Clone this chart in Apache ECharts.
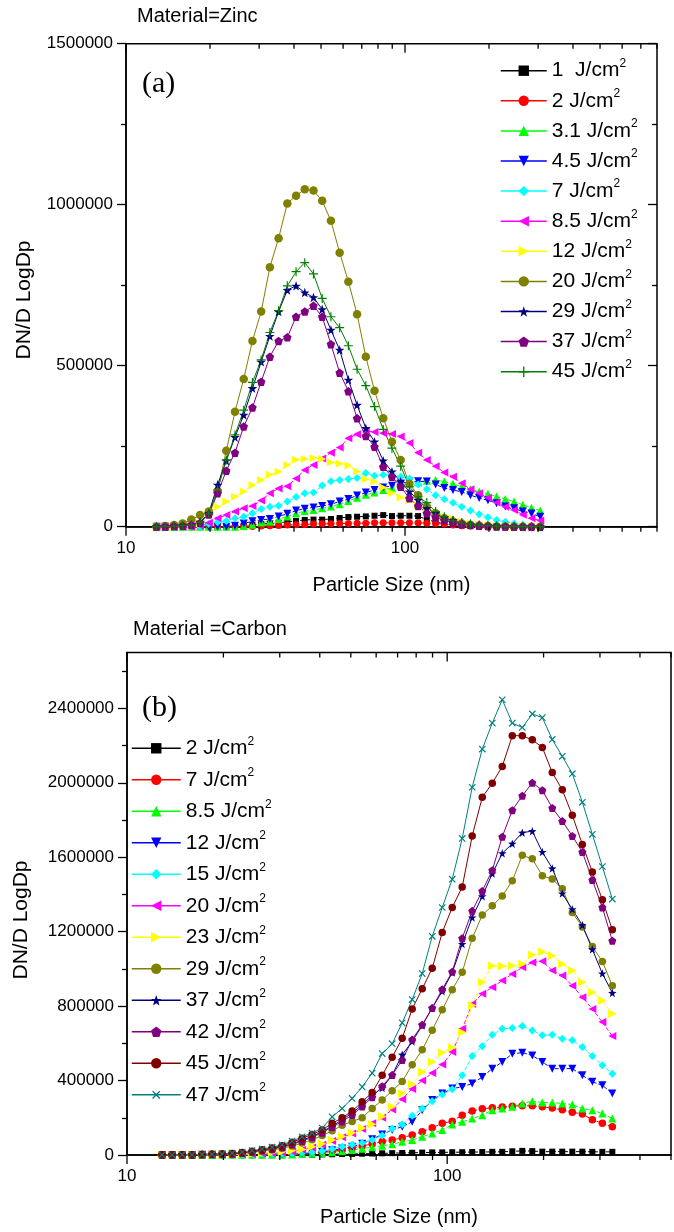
<!DOCTYPE html>
<html><head><meta charset="utf-8">
<script src="https://cdn.jsdelivr.net/npm/echarts@6.0.0/dist/echarts.min.js"></script>
<style>html,body{margin:0;padding:0;background:#fff;width:674px;height:1232px;overflow:hidden}
#a{position:absolute;left:0;top:0;width:674px;height:608px}
#b{position:absolute;left:0;top:608px;width:674px;height:624px}</style>
</head><body><div id="a"></div><div id="b"></div>
<script>
// ---------- DATA ----------
const sizesZinc = [12.86,13.82,14.86,15.96,17.15,18.43,19.81,21.29,22.88,24.58,26.42,28.39,30.51,32.78,35.23,37.86,40.69,43.72,46.98,50.49,54.26,58.31,62.66,67.33,72.36,77.75,83.56,89.79,96.49,103.7,111.4,119.7,128.7,138.3,148.6,159.7,171.6,184.4,198.2,212.9,228.8,245.9,264.3,284.0,305.2];
const sizesCarbon = [12.86,13.82,14.86,15.96,17.15,18.43,19.81,21.29,22.88,24.58,26.42,28.39,30.51,32.78,35.23,37.86,40.69,43.72,46.98,50.49,54.26,58.31,62.66,67.33,72.36,77.75,83.56,89.79,96.49,103.7,111.4,119.7,128.7,138.3,148.6,159.7,171.6,184.4,198.2,212.9,228.8,245.9,264.3,284.0,305.2,327.9];

const zincNames = ['1  J/cm²','2 J/cm²','3.1 J/cm²','4.5 J/cm²','7 J/cm²','8.5 J/cm²','12 J/cm²','20 J/cm²','29 J/cm²','37 J/cm²','45 J/cm²'];
const zinc_1 = [0,0,0,0,0, 0,0,0,0,1000, 3000,5000,8000,10000,12000, 15000,18000,21000,22000,22000, 24000,27000,30000,31000,32000, 34000,36000,33000,34000,34000, 33000,22000,15000,9000,6000, 4000,3000,2000,2000,1000, 1000,1000,0,0,0];
const zinc_2 = [0,0,0,0,0, 0,0,0,0,0, 0,1000,2000,3000,4000, 5000,6000,7000,8000,9000, 9000,10000,10000,11000,11000, 12000,12000,12000,12000,12000, 12000,11000,10000,8000,5000, 3000,2000,1000,0,0, 0,0,0,0,0];
const zinc_3_1 = [0,0,0,0,0, 0,0,0,0,0, 2000,6000,13000,16000,24000, 32000,42000,48000,52000,57000, 63000,70000,80000,90000,99000, 106000,114000,121000,128000,134000, 139000,143000,145000,140000,133000, 124000,116000,109000,102000,94000, 86000,78000,68000,59000,50000];
const zinc_4_5 = [0,0,0,0,0, 0,0,0,0,3000, 10000,17000,21000,24000,32000, 40000,50000,56000,60000,64000, 70000,78000,86000,97000,106000, 114000,122000,127000,134000,140000, 141000,140000,131000,120000,114000, 108000,98000,89000,82000,73000, 63000,57000,47000,41000,31000];
const zinc_7 = [0,0,0,0,0, 0,8000,14000,18000,26000, 31000,42000,55000,62000,65000, 78000,92000,104000,106000,128000, 141000,145000,148000,151000,167000, 158000,161000,162000,155000,150000, 131000,116000,98000,85000,74000, 62000,50000,39000,29000,21000, 15000,10000,6000,3000,2000];
const zinc_8_5 = [0,0,0,0,0, 3000,12000,26000,36000,47000, 57000,64000,81000,104000,119000, 126000,150000,176000,192000,212000, 230000,246000,275000,287000,298000, 294000,290000,288000,280000,260000, 230000,207000,188000,168000,155000, 135000,116000,104000,90000,75000, 62000,52000,37000,26000,19000];
const zinc_12 = [0,0,0,0,0, 10000,42000,62000,78000,93000, 109000,129000,145000,161000,171000, 192000,208000,210000,213000,210000, 200000,196000,190000,172000,148000, 140000,122000,105000,91000,82000, 67000,52000,42000,31000,25000, 16000,10000,6000,4000,2000, 1000,0,0,0,0];
const zinc_20 = [0,2000,5000,10000,22000, 36000,47000,110000,236000,357000, 459000,577000,668000,806000,896000, 1004000,1028000,1048000,1044000,1012000, 950000,851000,761000,660000,528000, 422000,337000,264000,207000,133000, 98000,62000,42000,26000,16000, 10000,6000,4000,2000,1000, 1000,0,0,0,0];
const zinc_29 = [0,1000,2000,3000,6000, 15000,42000,130000,205000,278000, 347000,430000,512000,592000,668000, 735000,748000,727000,712000,675000, 611000,549000,456000,378000,306000, 264000,205000,171000,140000,109000, 83000,57000,42000,29000,20000, 12000,8000,5000,3000,2000, 1000,1000,0,0,0];
const zinc_37 = [0,1000,2000,3000,5000, 12000,38000,104000,174000,230000, 311000,370000,450000,528000,577000, 588000,652000,668000,686000,652000, 567000,478000,421000,337000,282000, 248000,186000,155000,124000,88000, 64000,42000,29000,20000,12000, 8000,5000,3000,2000,1000, 1000,0,0,0,0];
const zinc_45 = [0,1000,2000,3000,5000, 14000,40000,114000,207000,285000, 362000,448000,518000,603000,671000, 748000,792000,820000,785000,709000, 652000,618000,562000,489000,438000, 373000,302000,244000,188000,124000, 93000,75000,47000,31000,20000, 12000,8000,5000,3000,2000, 1000,1000,0,0,0];

const carbonNames = ['2 J/cm²','7 J/cm²','8.5 J/cm²','12 J/cm²','15 J/cm²','20 J/cm²','23 J/cm²','29 J/cm²','37 J/cm²','42 J/cm²','45 J/cm²','47 J/cm²'];
const carbon_2 = [0,0,0,0,0, 0,0,0,0,0, 0,0,0,0,1000, 2000,3000,4000,5000,6000, 7000,8000,9000,10000,11000, 12000,13000,14000,14000,15000, 15000,16000,16000,17000,17000, 20000,22000,21000,18000,18000, 18000,18000,18000,17000,17000, 17000];
const carbon_7 = [0,0,0,0,0, 1000,1000,1000,2000,2000, 2000,3000,3000,5000,8000, 12000,16000,20000,28000,38000, 48000,60000,72000,80000,93000, 107000,125000,146000,170000,182000, 214000,236000,248000,254000,258000, 262000,265000,264000,259000,252000, 243000,230000,220000,190000,170000, 152000];
const carbon_8_5 = [0,0,0,0,0, 0,1000,1000,1000,1000, 2000,2000,2000,3000,5000, 8000,11000,15000,20000,27000, 34000,42000,50000,58000,71000, 80000,98000,116000,134000,164000, 178000,196000,214000,241000,250000, 259000,277000,289000,282000,282000, 277000,271000,250000,241000,223000, 196000];
const carbon_12 = [0,0,0,0,1000, 1000,1000,2000,2000,3000, 4000,5000,6000,7000,8000, 12000,18000,25000,35000,45000, 60000,85000,110000,135000,152000, 178000,240000,295000,330000,357000, 366000,384000,419000,464000,500000, 544000,550000,535000,500000,464000, 464000,464000,428000,393000,375000, 330000];
const carbon_15 = [0,0,0,1000,1000, 1000,2000,2000,3000,4000, 5000,6000,8000,10000,12000, 15000,22000,32000,45000,55000, 65000,80000,105000,143000,164000, 211000,250000,289000,325000,353000, 428000,532000,585000,646000,678000, 682000,693000,669000,643000,646000, 625000,616000,580000,532000,482000, 437000];
const carbon_20 = [0,0,1000,1000,1000, 2000,2000,3000,4000,6000, 8000,10000,14000,18000,28000, 40000,55000,75000,95000,115000, 140000,170000,200000,245000,300000, 355000,400000,440000,486000,553000, 678000,812000,866000,901000,937000, 973000,1009000,1035000,1041000,991000, 964000,910000,848000,785000,714000, 639000];
const carbon_23 = [0,0,1000,1000,2000, 2000,3000,4000,5000,7000, 10000,14000,18000,24000,30000, 45000,60000,80000,100000,120000, 145000,165000,207000,259000,330000, 380000,446000,500000,550000,577000, 660000,803000,928000,1017000,1014000, 1017000,1026000,1075000,1092000,1071000, 1026000,991000,928000,875000,830000, 759000];
const carbon_29 = [1000,1000,2000,2000,3000, 4000,5000,6000,9000,14000, 20000,27000,36000,48000,64000, 82000,105000,130000,160000,180000, 200000,250000,295000,345000,395000, 485000,565000,670000,780000,888000, 982000,1164000,1289000,1339000,1392000, 1473000,1610000,1592000,1500000,1483000, 1430000,1303000,1225000,1120000,1040000, 910000];
const carbon_37 = [1000,1000,2000,2000,3000, 4000,5000,8000,12000,18000, 26000,35000,45000,60000,80000, 100000,125000,155000,190000,225000, 270000,320000,360000,430000,539000, 610000,696000,790000,880000,980000, 1134000,1276000,1390000,1512000,1621000, 1673000,1732000,1740000,1628000,1540000, 1405000,1320000,1235000,1105000,975000, 871000];
const carbon_42 = [1000,1000,2000,2000,3000, 4000,5000,7000,11000,17000, 24000,32000,42000,56000,75000, 95000,120000,150000,180000,215000, 260000,310000,370000,430000,510000, 620000,700000,790000,890000,985000, 1165000,1312000,1419000,1530000,1710000, 1853000,1930000,2000000,1960000,1865000, 1794000,1714000,1628000,1478000,1330000, 1151000];
const carbon_45 = [1000,1000,2000,2000,3000, 4000,5000,8000,13000,20000, 28000,38000,50000,68000,90000, 110000,135000,170000,200000,236000, 286000,336000,428000,525000,627000, 785000,893000,1003000,1196000,1330000, 1440000,1714000,1922000,1998000,2088000, 2253000,2253000,2231000,2190000,2055000, 1962000,1825000,1669000,1521000,1371000, 1210000];
const carbon_47 = [1000,1000,2000,2000,3000, 4000,6000,10000,16000,24000, 32000,42000,55000,75000,98000, 118000,145000,205000,250000,304000, 366000,440000,545000,598000,710000, 835000,975000,1175000,1330000,1482000, 1701000,1976000,2181000,2321000,2446000, 2321000,2297000,2370000,2350000,2233000, 2142000,2049000,1895000,1723000,1550000, 1375000];

const zincTicks = [10,20,30,40,50,60,70,80,90,100,200,300,400,500,600,700,800];
const carbonTicks = [10,20,30,40,50,60,70,80,90,100,200,300,400,500];
const zincYTicks = [0,500000,1000000,1500000];
const carbonYTicks = [0,400000,800000,1200000,1600000,2000000,2400000];
const carbonYMinorTicks = [200000,600000,1000000,1400000,1800000,2200000,2600000];

// ---------- STYLES ----------
const FONT = 'Liberation Sans, Arial, Helvetica, sans-serif';
const SERIF = 'Liberation Serif, Times New Roman, serif';
const P = {
  star: 'path://M0,-10L2.35,-3.24L9.51,-3.09L3.8,1.24L5.88,8.09L0,4L-5.88,8.09L-3.8,1.24L-9.51,-3.09L-2.35,-3.24Z',
  pent: 'path://M0,-10L9.51,-3.09L5.88,8.09L-5.88,8.09L-9.51,-3.09Z',
  plus: 'path://M-1.3,-10L1.3,-10L1.3,-1.3L10,-1.3L10,1.3L1.3,1.3L1.3,10L-1.3,10L-1.3,1.3L-10,1.3L-10,-1.3L-1.3,-1.3Z'
};
const zincStyle = [
  {c:'#000000', s:'rect', z:6, r:0, d:true},
  {c:'#ff0000', s:'circle', z:7, r:0, d:true},
  {c:'#00ff00', s:'triangle', z:8, r:0, d:true},
  {c:'#0000ff', s:'triangle', z:8, r:180, d:true},
  {c:'#00ffff', s:'diamond', z:8, r:0, d:true},
  {c:'#ff00ff', s:'triangle', z:8, r:90, d:true},
  {c:'#ffff00', s:'triangle', z:8, r:-90, d:true},
  {c:'#808000', s:'circle', z:8.5, r:0, d:false},
  {c:'#000080', s:P.star, z:9.5, r:0, d:false},
  {c:'#800080', s:P.pent, z:8.5, r:0, d:false},
  {c:'#008000', s:P.plus, z:9, r:0, d:false}
];
const carbonStyle = [
  {c:'#000000', s:'rect', z:6, r:0, d:true},
  {c:'#ff0000', s:'circle', z:7.5, r:0, d:true},
  {c:'#00ff00', s:'triangle', z:8, r:0, d:true},
  {c:'#0000ff', s:'triangle', z:8, r:180, d:true},
  {c:'#00ffff', s:'diamond', z:8, r:0, d:true},
  {c:'#ff00ff', s:'triangle', z:8, r:90, d:true},
  {c:'#ffff00', s:'triangle', z:8.5, r:-90, d:true},
  {c:'#808000', s:'circle', z:7.5, r:0, d:false},
  {c:'#000080', s:P.star, z:8.5, r:0, d:false},
  {c:'#800080', s:P.pent, z:8, r:0, d:false},
  {c:'#800000', s:'circle', z:7.5, r:0, d:false},
  {c:'#008080', s:P.plus, z:9, r:45, d:false}
];

function mkSeries(name, xs, ys, st) {
  return {
    type: 'line', name: name, xAxisIndex: 0, yAxisIndex: 0,
    data: xs.map((x, i) => [x, ys[i]]),
    symbol: st.s, symbolSize: st.z, symbolRotate: st.r, showSymbol: true,
    itemStyle: {color: st.c},
    lineStyle: {color: st.c, width: 1, type: st.d ? [4, 2] : 'solid'},
    emphasis: {disabled: true}, animation: false, silent: true
  };
}
function isPow10(v) { const l = Math.log10(v); return Math.abs(l - Math.round(l)) < 1e-6; }
function tickSeries(vals) {
  return {
    type: 'custom', silent: true, clip: false, z: 20, animation: false,
    xAxisIndex: 0, yAxisIndex: 0,
    data: vals.map(v => [v, 0]), encode: {x: 0, y: 1},
    renderItem: function (params, api) {
      const v = api.value(0);
      const x = api.coord([v, 0])[0];
      const cs = params.coordSys;
      const L = isPow10(v) ? 9 : 5;
      const yb = cs.y + cs.height;
      return {type: 'group', children: [
        {type: 'line', shape: {x1: x, y1: yb, x2: x, y2: yb + L}, style: {stroke: '#000', lineWidth: 1.3}},
        {type: 'line', shape: {x1: x, y1: cs.y, x2: x, y2: cs.y + L}, style: {stroke: '#000', lineWidth: 1.3}}
      ]};
    }
  };
}
function legendFmt(name) { const a = name.split('²')[0]; return '{t|' + a + '}{s|2}'; }
const legendRich = {
  t: {fontSize: 21, fontFamily: FONT, color: '#000', lineHeight: 26},
  s: {fontSize: 12, fontFamily: FONT, color: '#000', lineHeight: 14, verticalAlign: 'top'}
};
function xAxisCfg(max, gap) {
  return {
    type: 'log', logBase: 10, min: 10, max: max,
    axisLine: {show: true, onZero: false, lineStyle: {color: '#000', width: 1.5}},
    axisTick: {show: false}, minorTick: {show: false}, splitLine: {show: false},
    axisLabel: {fontSize: 17, color: '#000', fontFamily: FONT, margin: 13,
      formatter: v => isPow10(v) ? String(Math.round(v)) : ''},
    name: 'Particle Size (nm)', nameLocation: 'middle', nameGap: gap,
    nameTextStyle: {fontSize: 20, color: '#000', fontFamily: FONT}
  };
}
const TICK = {color: '#000', width: 1.3};
function yAxisCfg(max, interval, ticks, minor) {
  return {
    type: 'value', min: 0, max: max, interval: interval,
    axisLine: {show: true, onZero: false, lineStyle: {color: '#000', width: 1.5}},
    axisTick: {show: true, length: 9, lineStyle: TICK, customValues: ticks},
    minorTick: {show: minor, splitNumber: 2, length: 5, lineStyle: TICK},
    splitLine: {show: false}, minorSplitLine: {show: false},
    axisLabel: {fontSize: 17, color: '#000', fontFamily: FONT, margin: 13, customValues: ticks,
      formatter: v => String(v)}
  };
}

// ---------- CHART A (Zinc) ----------
const zincVals = [zinc_1, zinc_2, zinc_3_1, zinc_4_5, zinc_7, zinc_8_5, zinc_12, zinc_20, zinc_29, zinc_37, zinc_45];
const chartA = echarts.init(document.getElementById('a'), null, {renderer: 'canvas'});
const yA2 = {
  type: 'value', min: 0, max: 1500000, interval: 500000, position: 'right',
  axisLine: {show: false}, axisLabel: {show: false}, splitLine: {show: false},
  axisTick: {show: true, inside: true, length: 9, lineStyle: TICK},
  minorTick: {show: true, splitNumber: 2, length: 5, lineStyle: TICK}
};
chartA.setOption({
  animation: false,
  title: [
    {text: 'Material=Zinc', left: 137, top: 6, padding: 0, textStyle: {fontSize: 20, fontWeight: 'normal', fontFamily: FONT, color: '#000'}},
    {text: '(a)', left: 142, top: 69, padding: 0, textStyle: {fontSize: 30, fontWeight: 'normal', fontFamily: SERIF, color: '#000'}}
  ],
  grid: {left: 126, top: 43.7, width: 531, height: 483, show: true, borderColor: '#000', borderWidth: 1.5, backgroundColor: 'transparent'},
  xAxis: [xAxisCfg(800, 49)],
  yAxis: [yAxisCfg(1500000, 500000, zincYTicks, true), yA2],
  legend: {orient: 'vertical', left: 500, top: 57.7, padding: 0, itemWidth: 46, itemHeight: 13, itemGap: 6.6,
    data: zincNames, formatter: legendFmt, textStyle: {rich: legendRich}, selectedMode: false,
    lineStyle: {type: 'solid', width: 1.5}},
  graphic: [{type: 'text', x: 24, y: 300, rotation: Math.PI / 2,
    style: {text: 'DN/D LogDp', font: '21px ' + FONT, fill: '#000', textAlign: 'center', textVerticalAlign: 'middle'}}],
  series: zincNames.map((n, i) => mkSeries(n, sizesZinc, zincVals[i], zincStyle[i])).concat([tickSeries(zincTicks)])
});

// ---------- CHART B (Carbon) ----------
const carbonVals = [carbon_2, carbon_7, carbon_8_5, carbon_12, carbon_15, carbon_20, carbon_23, carbon_29, carbon_37, carbon_42, carbon_45, carbon_47];
const chartB = echarts.init(document.getElementById('b'), null, {renderer: 'canvas'});
const yB2 = {
  type: 'value', min: 0, max: 2700000, interval: 200000, position: 'left',
  axisLine: {show: false}, axisLabel: {show: false}, splitLine: {show: false},
  axisTick: {show: true, length: 5, lineStyle: TICK, customValues: carbonYMinorTicks}
};
chartB.setOption({
  animation: false,
  title: [
    {text: 'Material =Carbon', left: 133, top: 11, padding: 0, textStyle: {fontSize: 20, fontWeight: 'normal', fontFamily: FONT, color: '#000'}},
    {text: '(b)', left: 142, top: 85, padding: 0, textStyle: {fontSize: 30, fontWeight: 'normal', fontFamily: SERIF, color: '#000'}}
  ],
  grid: {left: 127, top: 44.5, width: 557, height: 504.2, show: true, borderColor: '#000', borderWidth: 1.5, backgroundColor: 'transparent'},
  xAxis: [xAxisCfg(500, 52)],
  yAxis: [yAxisCfg(2700000, 400000, carbonYTicks, false), yB2],
  legend: {orient: 'vertical', left: 131, top: 127.3, padding: 0, itemWidth: 49, itemHeight: 13, itemGap: 8,
    data: carbonNames, formatter: legendFmt, textStyle: {rich: legendRich}, selectedMode: false,
    lineStyle: {type: 'solid', width: 1.5}},
  graphic: [{type: 'text', x: 21, y: 312, rotation: Math.PI / 2,
    style: {text: 'DN/D LogDp', font: '21px ' + FONT, fill: '#000', textAlign: 'center', textVerticalAlign: 'middle'}}],
  series: carbonNames.map((n, i) => mkSeries(n, sizesCarbon, carbonVals[i], carbonStyle[i])).concat([tickSeries(carbonTicks)])
});
</script>
</body></html>
